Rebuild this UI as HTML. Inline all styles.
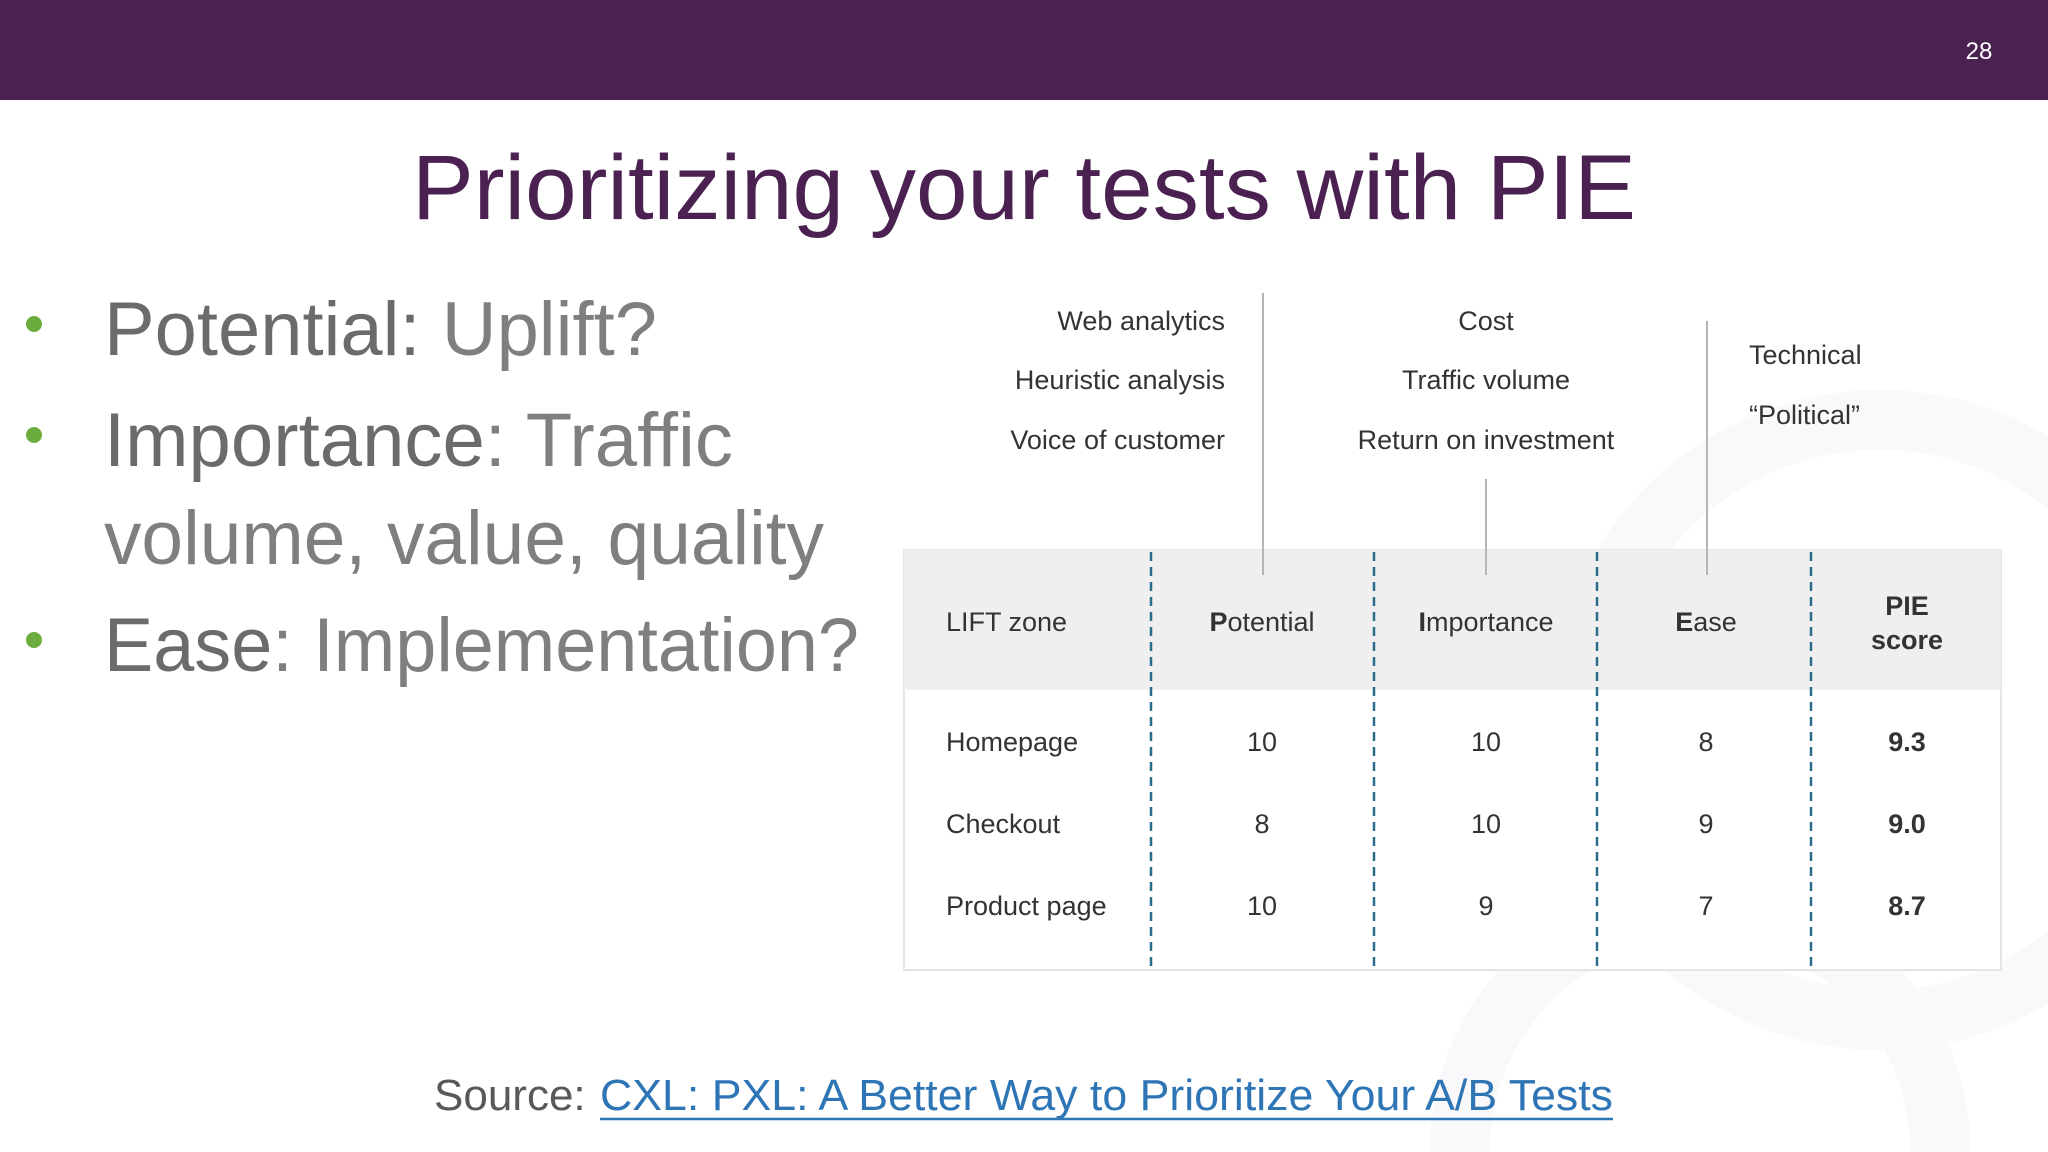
<!DOCTYPE html>
<html><head><meta charset="utf-8"><style>
html,body{margin:0;padding:0;background:#fff;width:2048px;height:1152px;overflow:hidden;}
svg{display:block;font-family:"Liberation Sans",sans-serif;}
</style></head><body>
<svg width="2048" height="1152" viewBox="0 0 2048 1152">
<g fill="none" stroke="#f9f8fa" stroke-width="60">
<circle cx="1880" cy="720" r="300"/>
<circle cx="1700" cy="1150" r="240"/>
</g>
<rect x="0" y="0" width="2048" height="100" fill="#4a2150"/>
<text x="1979" y="59" fill="#fff" font-size="24" text-anchor="middle">28</text>
<text x="1024" y="219" fill="#4a2150" font-size="92" text-anchor="middle" textLength="1224" lengthAdjust="spacingAndGlyphs">Prioritizing your tests with PIE</text>

<g font-size="76" fill="#7f7f7f">
<circle cx="34" cy="324" r="8" fill="#6aad3e"/>
<text x="104" y="355" textLength="553" lengthAdjust="spacingAndGlyphs"><tspan fill="#6b6b6b">Potential:</tspan> Uplift?</text>
<circle cx="34" cy="435" r="8" fill="#6aad3e"/>
<text x="104" y="466" textLength="629" lengthAdjust="spacingAndGlyphs"><tspan fill="#6b6b6b">Importance</tspan>: Traffic</text>
<text x="104" y="564" textLength="720" lengthAdjust="spacingAndGlyphs">volume, value, quality</text>
<circle cx="34" cy="640" r="8" fill="#6aad3e"/>
<text x="104" y="671" textLength="755" lengthAdjust="spacingAndGlyphs"><tspan fill="#6b6b6b">Ease</tspan>: Implementation?</text>
</g>

<g font-size="27" fill="#333">
<text x="1225" y="330" text-anchor="end">Web analytics</text>
<text x="1225" y="389" text-anchor="end">Heuristic analysis</text>
<text x="1225" y="449" text-anchor="end">Voice of customer</text>
<text x="1486" y="330" text-anchor="middle">Cost</text>
<text x="1486" y="389" text-anchor="middle">Traffic volume</text>
<text x="1486" y="449" text-anchor="middle">Return on investment</text>
<text x="1749" y="364">Technical</text>
<text x="1749" y="424">“Political”</text>
</g>

<g>
<rect x="904" y="550" width="1097" height="420" fill="#fff" stroke="#e4e4e6" stroke-width="2"/>
<rect x="904" y="550" width="1097" height="140" fill="#efeff0"/>
<g stroke="#b5b5b5" stroke-width="2">
<line x1="1263" y1="293" x2="1263" y2="575"/>
<line x1="1486" y1="479" x2="1486" y2="575"/>
<line x1="1707" y1="321" x2="1707" y2="575"/>
</g>
<g stroke="#2b6c8a" stroke-width="2.5" stroke-dasharray="9,6">
<line x1="1151" y1="552" x2="1151" y2="968"/>
<line x1="1374" y1="552" x2="1374" y2="968"/>
<line x1="1597" y1="552" x2="1597" y2="968"/>
<line x1="1811" y1="552" x2="1811" y2="968"/>
</g>
<g font-size="27" fill="#333">
<text x="946" y="631">LIFT zone</text>
<text x="1262" y="631" text-anchor="middle"><tspan font-weight="bold">P</tspan>otential</text>
<text x="1486" y="631" text-anchor="middle"><tspan font-weight="bold">I</tspan>mportance</text>
<text x="1706" y="631" text-anchor="middle"><tspan font-weight="bold">E</tspan>ase</text>
<text x="1907" y="615" text-anchor="middle" font-weight="bold">PIE</text>
<text x="1907" y="649" text-anchor="middle" font-weight="bold">score</text>
</g>
<g font-size="27" fill="#333">
<text x="946" y="751">Homepage</text><text x="1262" y="751" text-anchor="middle">10</text><text x="1486" y="751" text-anchor="middle">10</text><text x="1706" y="751" text-anchor="middle">8</text><text x="1907" y="751" text-anchor="middle" font-weight="bold">9.3</text>
<text x="946" y="833">Checkout</text><text x="1262" y="833" text-anchor="middle">8</text><text x="1486" y="833" text-anchor="middle">10</text><text x="1706" y="833" text-anchor="middle">9</text><text x="1907" y="833" text-anchor="middle" font-weight="bold">9.0</text>
<text x="946" y="915">Product page</text><text x="1262" y="915" text-anchor="middle">10</text><text x="1486" y="915" text-anchor="middle">9</text><text x="1706" y="915" text-anchor="middle">7</text><text x="1907" y="915" text-anchor="middle" font-weight="bold">8.7</text>
</g>
</g>

<text x="434" y="1110" font-size="44" fill="#595959">Source:</text>
<text x="600" y="1110" font-size="44" fill="#2e75b6" textLength="1013" lengthAdjust="spacingAndGlyphs">CXL: PXL: A Better Way to Prioritize Your A/B Tests</text>
<line x1="600" y1="1119" x2="1613" y2="1119" stroke="#2e75b6" stroke-width="2.5"/>
</svg>
</body></html>
